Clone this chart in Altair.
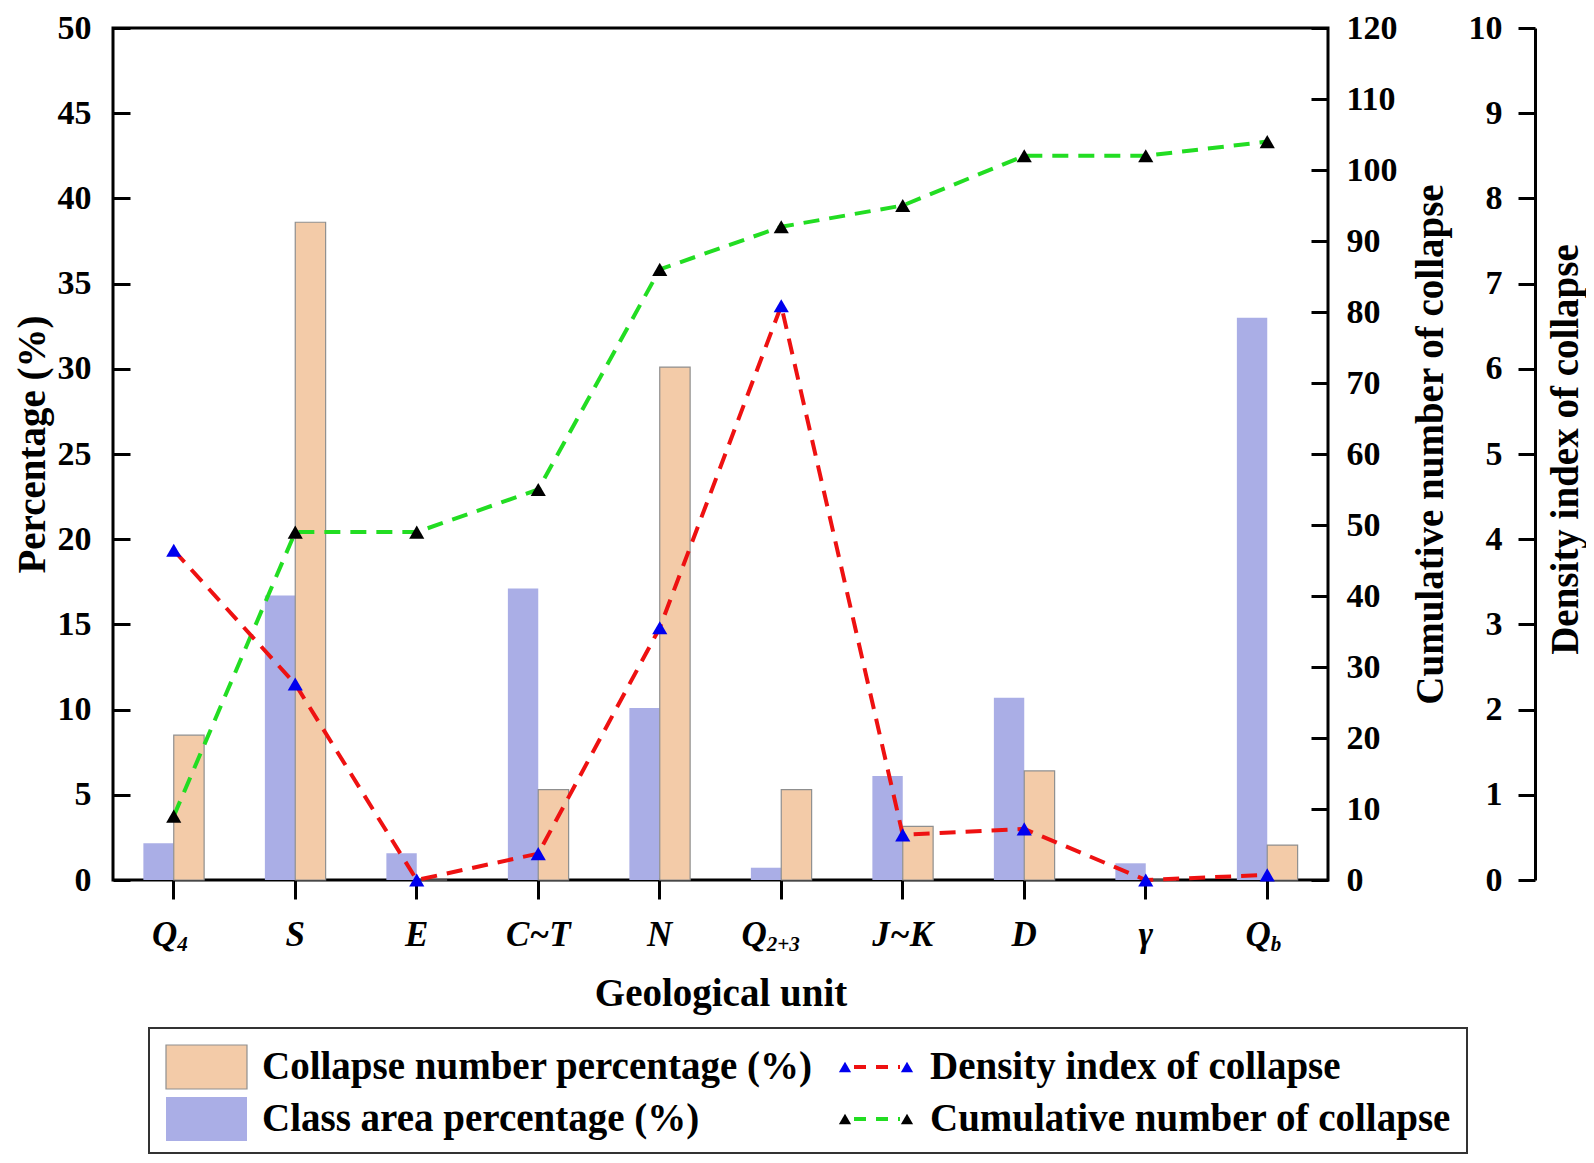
import altair as alt
import pandas as pd

# ---------------- data ----------------
categories = ["Q4", "S", "E", "C~T", "N", "Q2+3", "J~K", "D", "γ", "Qb"]
label_main = ["Q", "S", "E", "C~T", "N", "Q", "J~K", "D", "γ", "Q"]
label_sub = ["4", "", "", "", "", "2+3", "", "", "", "b"]

collapse_pct = [8.5, 38.6, 0.0, 5.3, 30.1, 5.3, 3.15, 6.4, 0.0, 2.05]
area_pct = [2.15, 16.7, 1.57, 17.1, 10.1, 0.72, 6.1, 10.7, 0.98, 33.0]
cumulative = [9, 49, 49, 55, 86, 92, 95, 102, 102, 104]
density = [3.87, 2.30, 0.0, 0.31, 2.96, 6.74, 0.53, 0.60, 0.0, 0.06]

pct_ticks = list(range(0, 51, 5))
cum_ticks = list(range(0, 121, 10))
den_ticks = list(range(0, 11, 1))

SERIES_COLLAPSE = "Collapse number percentage (%)"
SERIES_AREA = "Class area percentage (%)"
SERIES_DENSITY = "Density index of collapse"
SERIES_CUM = "Cumulative number of collapse"
series_order = [SERIES_AREA, SERIES_COLLAPSE]

# ---------------- styling ----------------
TOP = 28      # page y of the plot's top edge
BOTTOM = 880  # page y of the plot's bottom edge
W, H = 1215, BOTTOM - TOP
FONT = "Liberation Serif"
ORANGE = "#F3CBA8"
BLUE = "#AAAEE6"
RED = "#EE1111"
GREEN = "#22DD22"
MARK_BLUE = "#0000EE"
TICK_FS = 34
TITLE_FS = 39
HALF_BAND = W / len(categories) / 2

base_df = pd.DataFrame({
    "category": categories,
    "cumulative": cumulative,
    "density": density,
    "main": label_main,
    "sub": label_sub,
})
bar_df = pd.DataFrame({
    "category": categories * 2,
    "series": [SERIES_AREA] * len(categories) + [SERIES_COLLAPSE] * len(categories),
    "value": area_pct + collapse_pct,
})

x_enc = alt.X(
    "category:N", sort=categories,
    scale=alt.Scale(paddingInner=0, paddingOuter=0),
    axis=alt.Axis(
        title="Geological unit", labels=False, ticks=True, tickSize=19, tickWidth=3,
        tickColor="black", domain=False, grid=False,
        titleFont=FONT, titleFontSize=TITLE_FS, titleFontWeight="bold", titleColor="black",
        titleY=113, titleBaseline="middle",
    ),
)

common_axis = dict(
    tickSize=17, tickWidth=3, tickColor="black", grid=False,
    labelFont=FONT, labelFontSize=TICK_FS, labelFontWeight="bold", labelColor="black",
    labelBaseline="middle",
    titleFont=FONT, titleFontSize=TITLE_FS, titleFontWeight="bold", titleColor="black",
    titleAngle=270, titleAlign="center", titleBaseline="middle",
)

bars = alt.Chart(bar_df).mark_bar(strokeWidth=1.2).encode(
    x=x_enc,
    xOffset=alt.XOffset("series:N", sort=series_order,
                        scale=alt.Scale(domain=series_order, paddingInner=0, paddingOuter=1)),
    y=alt.Y("value:Q", scale=alt.Scale(domain=[0, 50], nice=False),
            axis=alt.Axis(orient="right", offset=-W, values=pct_ticks, domain=False,
                          labelPadding=-39, labelAlign="right",
                          title="Percentage (%)", titleX=-81, titleY=444 - TOP, **common_axis)),
    fill=alt.Fill("series:N", scale=alt.Scale(domain=series_order, range=[BLUE, ORANGE]), legend=None),
    stroke=alt.Stroke("series:N", scale=alt.Scale(domain=series_order, range=["transparent", "#8f8f8f"]), legend=None),
)

cum_line = alt.Chart(base_df).mark_line(
    color=GREEN, strokeWidth=4, strokeDash=[16, 10], interpolate="linear"
).encode(
    x=x_enc,
    y=alt.Y("cumulative:Q", scale=alt.Scale(domain=[0, 120], nice=False),
            axis=alt.Axis(orient="left", offset=-W, values=cum_ticks, domain=False,
                          labelPadding=-35, labelAlign="left",
                          title=SERIES_CUM, titleX=102, titleY=444 - TOP, **common_axis)),
)
cum_pts = alt.Chart(base_df).mark_point(shape="triangle-up", filled=True, color="black", size=230, opacity=1).encode(
    x=x_enc,
    y=alt.Y("cumulative:Q", scale=alt.Scale(domain=[0, 120], nice=False), axis=None),
)

den_line = alt.Chart(base_df).mark_line(
    color=RED, strokeWidth=4, strokeDash=[16, 10], interpolate="linear"
).encode(
    x=x_enc,
    y=alt.Y("density:Q", scale=alt.Scale(domain=[0, 10], nice=False),
            axis=alt.Axis(orient="left", offset=-(W + 207), values=den_ticks, domain=True,
                          domainColor="black", domainWidth=3,
                          labelPadding=16, labelAlign="right",
                          title=SERIES_DENSITY, titleX=30, titleY=449 - TOP, **common_axis)),
)
den_pts = alt.Chart(base_df).mark_point(shape="triangle-up", filled=True, color=MARK_BLUE, size=230, opacity=1).encode(
    x=x_enc,
    y=alt.Y("density:Q", scale=alt.Scale(domain=[0, 10], nice=False), axis=None),
)

# x tick labels with subscripts (real text)
lab_base = alt.Chart(base_df).transform_calculate(
    total="25 + 18 * length(datum.sub)",
).transform_calculate(
    dx_main=f"{HALF_BAND} + (datum.sub == '' ? 0 : -datum.total / 2 + 12.5)",
).transform_calculate(
    dx_sub="datum.dx_main + 12.5",
)
lab_main = lab_base.mark_text(
    font=FONT, fontSize=35, fontWeight="bold", fontStyle="italic",
    align="center", baseline="middle", color="black",
).encode(
    x=x_enc,
    xOffset=alt.XOffset("dx_main:Q", scale=None),
    y=alt.value(935 - TOP),
    text="main:N",
)
lab_sub = lab_base.transform_filter("datum.sub != ''").mark_text(
    font=FONT, fontSize=21, fontWeight="bold", fontStyle="italic",
    align="left", baseline="middle", color="black",
).encode(
    x=x_enc,
    xOffset=alt.XOffset("dx_sub:Q", scale=None),
    y=alt.value(945 - TOP),
    text="sub:N",
)

# ---------------- legend (framed box below the plot) ----------------
one = pd.DataFrame({"k": [0]})
LFS = 39
row1, row2 = 1067 - TOP, 1119 - TOP
leg_box = alt.Chart(one).mark_rect(fill="white", fillOpacity=0, stroke="#333333", strokeWidth=2).encode(
    x=alt.value(36), x2=alt.value(1354), y=alt.value(1028 - TOP), y2=alt.value(1153 - TOP))
sw1 = alt.Chart(one).mark_rect(fill=ORANGE, stroke="#8f8f8f", strokeWidth=1.2).encode(
    x=alt.value(53), x2=alt.value(134), y=alt.value(row1 - 22), y2=alt.value(row1 + 22))
sw2 = alt.Chart(one).mark_rect(fill=BLUE).encode(
    x=alt.value(53), x2=alt.value(134), y=alt.value(row2 - 22), y2=alt.value(row2 + 22))


def leg_text(label, x, y):
    return alt.Chart(one).mark_text(font=FONT, fontSize=LFS, fontWeight="bold", align="left",
                                    baseline="middle", color="black").encode(
        x=alt.value(x), y=alt.value(y), text=alt.value(label))


def leg_line(color, mcolor, y):
    rule = alt.Chart(one).mark_rule(color=color, strokeWidth=4, strokeDash=[12, 10]).encode(
        x=alt.value(741), x2=alt.value(787), y=alt.value(y))
    t1 = alt.Chart(one).mark_point(shape="triangle-up", filled=True, color=mcolor, size=150, opacity=1).encode(
        x=alt.value(732), y=alt.value(y))
    t2 = alt.Chart(one).mark_point(shape="triangle-up", filled=True, color=mcolor, size=150, opacity=1).encode(
        x=alt.value(794), y=alt.value(y))
    return [rule, t1, t2]


legend_layers = [leg_box, sw1, sw2,
                 leg_text(SERIES_COLLAPSE, 149, row1), leg_text(SERIES_AREA, 149, row2),
                 leg_text(SERIES_DENSITY, 817, row1), leg_text(SERIES_CUM, 817, row2)]
legend_layers += leg_line(RED, MARK_BLUE, row1) + leg_line(GREEN, "black", row2)

chart = alt.layer(
    bars, cum_line, den_line, cum_pts, den_pts, lab_main, lab_sub, *legend_layers
).resolve_scale(
    y="independent", xOffset="independent"
).properties(
    width=W, height=H,
    autosize=alt.AutoSizeParams(type="none"),
    padding={"left": 105, "top": TOP - 8, "right": 258, "bottom": 1147 - (TOP - 8) - H},
).configure(
    background="white"
).configure_view(
    stroke="black", strokeWidth=3
)

chart.save("out.html", embed_options={"renderer": "svg", "actions": False})
